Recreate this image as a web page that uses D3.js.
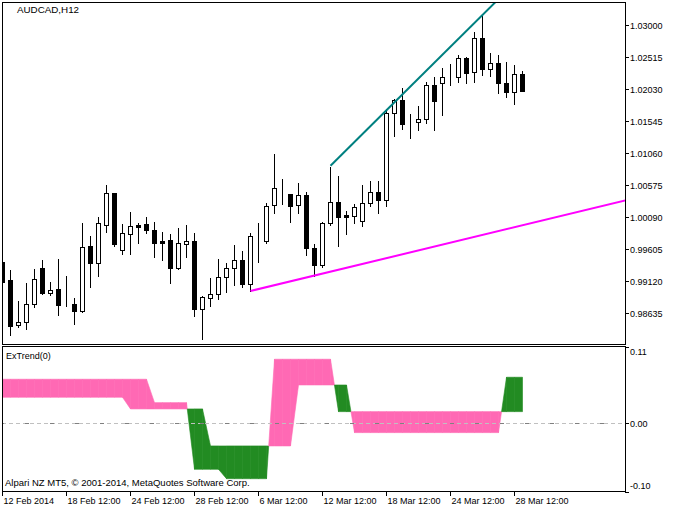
<!DOCTYPE html>
<html><head><meta charset="utf-8">
<script src="https://cdn.jsdelivr.net/npm/d3@7"></script>
<style>
body{margin:0;background:#fff}
svg{display:block}
text{font-family:"Liberation Sans",Arial,sans-serif;fill:#000}
</style>
</head><body>
<svg id="c" width="677" height="511"></svg>
<script>
const symbolTitle = "AUDCAD,H12";
const indicatorName = "ExTrend(0)";
const copyright = "Alpari NZ MT5, \u00A9 2001-2014, MetaQuotes Software Corp.";

const open = [0.99413,0.99135,0.98458,0.98503,0.98776,0.99317,0.98949,0.98999,0.98767,0.98772,
0.98670,0.99651,0.99398,0.99973,1.00454,0.99595,0.99837,0.99969,0.99984,0.99893,
0.99731,0.99742,0.99322,0.99686,0.99726,0.98700,0.98867,0.98928,0.99185,0.99328,
0.99438,0.99085,0.99776,0.99737,1.00268,1.00434,1.00439,1.00268,1.00419,0.99631,
0.99373,0.99995,1.00313,1.00120,1.00110,1.00034,1.00298,1.00465,1.00352,1.01662,
1.01863,1.01525,1.01525,1.01571,1.02086,1.02117,1.02207,1.02207,1.02495,1.02283,
1.02799,1.02329,1.02424,1.02121,1.01980,1.02253];
const high = [0.99423,0.99302,0.98832,0.99105,0.99322,0.99454,0.99120,0.99469,0.99211,0.98882,
1.00019,0.99817,1.00105,1.00590,1.00469,0.99999,1.00181,1.00014,1.00105,1.00030,
0.99883,0.99848,0.99939,0.99984,0.99863,0.98908,0.99181,0.99469,0.99413,0.99681,
0.99590,0.99863,1.00014,1.00318,1.01056,1.00681,1.00449,1.00616,1.00480,0.99692,
1.00025,1.00868,1.00727,1.00196,1.00307,1.00590,1.00651,1.00651,1.01738,1.01898,
1.02056,1.01662,1.01783,1.02151,1.02223,1.02364,1.02429,1.02561,1.02530,1.02909,
1.03152,1.02591,1.02561,1.02455,1.02409,1.02318];
const low = [0.99090,0.98312,0.98428,0.98397,0.98731,0.98928,0.98908,0.98605,0.98746,0.98473,
0.98655,0.99029,0.99196,0.99863,0.99655,0.99529,0.99529,0.99701,0.99852,0.99484,
0.99438,0.99090,0.99307,0.99484,0.98594,0.98241,0.98746,0.98852,0.98953,0.99060,
0.99029,0.98973,0.99408,0.99701,1.00155,1.00287,1.00019,1.00155,0.99519,0.99207,
0.99337,0.99973,0.99651,0.99833,1.00004,0.99958,1.00261,1.00155,1.00261,1.01322,
1.01428,1.01292,1.01413,1.01519,1.01413,1.01641,1.02091,1.02141,1.02126,1.02141,
1.02247,1.02227,1.01974,1.01913,1.01807,1.02004];
const close = [0.99110,0.98443,0.98509,0.98782,0.99151,0.98943,0.98994,0.98761,0.98767,0.98670,
0.99646,0.99398,0.99999,1.00454,0.99686,0.99848,0.99954,0.99943,0.99893,0.99696,
0.99701,0.99322,0.99696,0.99737,0.98700,0.98878,0.98934,0.99191,0.99328,0.99438,
0.99079,0.99798,0.99776,1.00257,1.00525,1.00434,1.00261,1.00419,0.99625,0.99373,
0.99995,1.00313,1.00095,1.00095,1.00252,1.00298,1.00465,1.00352,1.01662,1.01863,
1.01504,1.01525,1.01571,1.02086,1.01853,1.02207,1.02207,1.02495,1.02277,1.02799,
1.02338,1.02424,1.02117,1.01980,1.02253,1.02004];

// ExTrend buffers (line A, line B)
const lineA = [0.0633,0.0633,0.0633,0.0633,0.0633,0.0633,0.0633,0.0633,0.0633,0.0633,
0.0633,0.0633,0.0633,0.0633,0.0633,0.0633,0.0633,0.0633,0.0633,0.0294,
0.0294,0.0294,0.0294,0.0294,-0.0671,-0.0671,-0.0671,-0.0671,-0.0807,-0.0807,
-0.0807,-0.0807,-0.0807,-0.0807,0.0923,0.0923,0.0923,0.0923,0.0923,0.0923,
0.0923,0.0923,0.0164,0.0164,0.0164,0.0164,0.0164,0.0164,0.0164,0.0164,
0.0164,0.0164,0.0164,0.0164,0.0164,0.0164,0.0164,0.0164,0.0164,0.0164,
0.0164,0.0164,0.0164,0.0164,0.0164,0.0164];
const lineB = [0.0372,0.0372,0.0372,0.0372,0.0372,0.0372,0.0372,0.0372,0.0372,0.0372,
0.0372,0.0372,0.0372,0.0372,0.0372,0.0372,0.0203,0.0203,0.0203,0.0203,
0.0203,0.0203,0.0203,0.0203,0.0203,0.0203,-0.0333,-0.0333,-0.0333,-0.0333,
-0.0333,-0.0333,-0.0333,-0.0333,-0.0333,-0.0333,-0.0333,0.0550,0.0550,0.0550,
0.0550,0.0550,0.0550,0.0550,-0.0140,-0.0140,-0.0140,-0.0140,-0.0140,-0.0140,
-0.0140,-0.0140,-0.0140,-0.0140,-0.0140,-0.0140,-0.0140,-0.0140,-0.0140,-0.0140,
-0.0140,-0.0140,-0.0140,0.0662,0.0662,0.0662];

const priceTicks = [1.03000,1.02515,1.02030,1.01545,1.01060,1.00575,1.00090,0.99605,0.99120,0.98635];
const timeTickIndex = [0,8,16,24,32,40,48,56,64];
const timeTickLabels = ["12 Feb 2014","18 Feb 12:00","24 Feb 12:00","28 Feb 12:00","6 Mar 12:00","12 Mar 12:00","18 Mar 12:00","24 Mar 12:00","28 Mar 12:00"];
const indTicks = [0.11, 0.00, -0.10];
const indTickLabels = ["0.11","0.00","-0.10"];
const resistanceBars = [41, 60]; // through highs
const supportBars = [31, 39];    // through lows

const svg = d3.select("#c");
const L = 2, R = 625, mainTop = 2, mainBot = 344, subTop = 346, subBot = 491;

const x = d3.scaleLinear().domain([0, 1]).range([2.5, 10.5]);
const y = d3.scaleLinear().domain([0.98635, 1.03000]).range([313.3, 25]);
const yi = d3.scaleLinear().domain([-0.10, 0.11]).range([492, 347]);

// clips
const defs = svg.append("defs");
defs.append("clipPath").attr("id","cm").append("rect").attr("x",L+1).attr("y",mainTop+1).attr("width",R-L-1).attr("height",mainBot-mainTop-1);
defs.append("clipPath").attr("id","cs").append("rect").attr("x",L+1).attr("y",subTop+1).attr("width",R-L-1).attr("height",subBot-subTop-1);

// ---- main panel candles
const gm = svg.append("g").attr("clip-path","url(#cm)");
const idx = d3.range(open.length);
const px = i => Math.round(x(i) - 0.5) + 0.5;
const py = v => Math.round(y(v)) + 0.5;

gm.selectAll("line.w").data(idx).join("line")
  .attr("x1", px).attr("x2", px)
  .attr("y1", i => py(high[i])).attr("y2", i => py(low[i]))
  .attr("stroke","#000").attr("stroke-width",1).attr("shape-rendering","crispEdges");

gm.selectAll("rect.b").data(idx).join("rect")
  .attr("x", i => px(i) - 2).attr("width", 4)
  .attr("y", i => py(Math.max(open[i], close[i])))
  .attr("height", i => Math.max(0, py(Math.min(open[i], close[i])) - py(Math.max(open[i], close[i]))))
  .attr("fill", i => close[i] < open[i] ? "#000" : "#fff")
  .attr("stroke","#000").attr("stroke-width",1).attr("shape-rendering","crispEdges");

// trend lines
function trend(bars, arr, color) {
  const [i0, i1] = bars;
  const slope = (arr[i1] - arr[i0]) / (i1 - i0);
  const iEnd = x.invert(R + 2);
  gm.append("line")
    .attr("x1", x(i0)).attr("y1", y(arr[i0]))
    .attr("x2", x(iEnd)).attr("y2", y(arr[i0] + slope * (iEnd - i0)))
    .attr("stroke", color).attr("stroke-width", 2);
}
trend(resistanceBars, high, "#008080");
trend(supportBars, low, "#FF00FF");

// ---- sub panel fill
const gs = svg.append("g").attr("clip-path","url(#cs)");
const pink = "#FF69B4", green = "#228B22";
function poly(pts, col) {
  gs.append("polygon").attr("points", pts.map(p => p.join(",")).join(" "))
    .attr("fill", col).attr("stroke", col).attr("stroke-width", 0.6);
}
for (let i = 0; i < lineA.length - 1; i++) {
  const d0 = lineA[i] - lineB[i], d1 = lineA[i+1] - lineB[i+1];
  const xa = x(i), xb = x(i+1);
  if (d0 * d1 >= 0) {
    const col = (d0 + d1) >= 0 ? pink : green;
    poly([[xa, yi(lineA[i])], [xb, yi(lineA[i+1])], [xb, yi(lineB[i+1])], [xa, yi(lineB[i])]], col);
  } else {
    const t = d0 / (d0 - d1);
    const xc = xa + (xb - xa) * t;
    const vc = lineA[i] + (lineA[i+1] - lineA[i]) * t;
    poly([[xa, yi(lineA[i])], [xc, yi(vc)], [xa, yi(lineB[i])]], d0 > 0 ? pink : green);
    poly([[xc, yi(vc)], [xb, yi(lineA[i+1])], [xb, yi(lineB[i+1])]], d1 > 0 ? pink : green);
  }
}
// zero level dash-dot
const zy = Math.round(yi(0)) + 0.5;
gs.append("line").attr("x1", L).attr("x2", R).attr("y1", zy).attr("y2", zy)
  .attr("stroke","#c0c0c0").attr("stroke-dasharray","4,3").attr("shape-rendering","crispEdges");
gs.append("line").attr("x1", L).attr("x2", R).attr("y1", zy).attr("y2", zy)
  .attr("stroke","#808080").attr("stroke-dasharray","4,21").attr("stroke-dashoffset", -23)
  .attr("shape-rendering","crispEdges");

// ---- frames
const frame = (x0,y0,x1,y1) => svg.append("rect").attr("x",x0+0.5).attr("y",y0+0.5)
  .attr("width",x1-x0).attr("height",y1-y0).attr("fill","none").attr("stroke","#000")
  .attr("shape-rendering","crispEdges");
frame(L, mainTop, R, mainBot);
frame(L, subTop, R, subBot);

// price axis
const ga = svg.append("g");
priceTicks.forEach((v, k) => {
  const ty = Math.round(y(v)) + 0.5;
  ga.append("line").attr("x1", R).attr("x2", R + 4).attr("y1", ty).attr("y2", ty)
    .attr("stroke","#000").attr("shape-rendering","crispEdges");
  ga.append("text").attr("x", R + 5).attr("y", ty).attr("dy","0.35em")
    .attr("font-size","9px").text(priceTicks[k].toFixed(5));
});
// indicator axis
indTicks.forEach((v, k) => {
  const ty = Math.round(yi(v)) + 0.5;
  ga.append("line").attr("x1", R).attr("x2", R + 4).attr("y1", ty).attr("y2", ty)
    .attr("stroke","#000").attr("shape-rendering","crispEdges");
  const ly = Math.max(subTop + 6, Math.min(subBot - 5.5, ty));
  ga.append("text").attr("x", R + 5).attr("y", ly).attr("dy","0.35em")
    .attr("font-size","9px").text(indTickLabels[k]);
});
// time axis
timeTickIndex.forEach((ti, k) => {
  const tx = px(ti);
  ga.append("line").attr("x1", tx).attr("x2", tx).attr("y1", subBot).attr("y2", subBot + 5)
    .attr("stroke","#000").attr("shape-rendering","crispEdges");
  ga.append("text").attr("x", tx + 1).attr("y", 501).attr("dy","0.35em")
    .attr("font-size","9px").text(timeTickLabels[k]);
});

// labels
svg.append("text").attr("x", 17).attr("y", 10).attr("dy","0.35em").attr("font-size","9.8px").text(symbolTitle);
svg.append("text").attr("x", 6).attr("y", 356).attr("dy","0.35em").attr("font-size","9px").text(indicatorName);
svg.append("text").attr("x", 5).attr("y", 483).attr("dy","0.35em").attr("font-size","9.5px").text(copyright);
</script>
</body></html>
